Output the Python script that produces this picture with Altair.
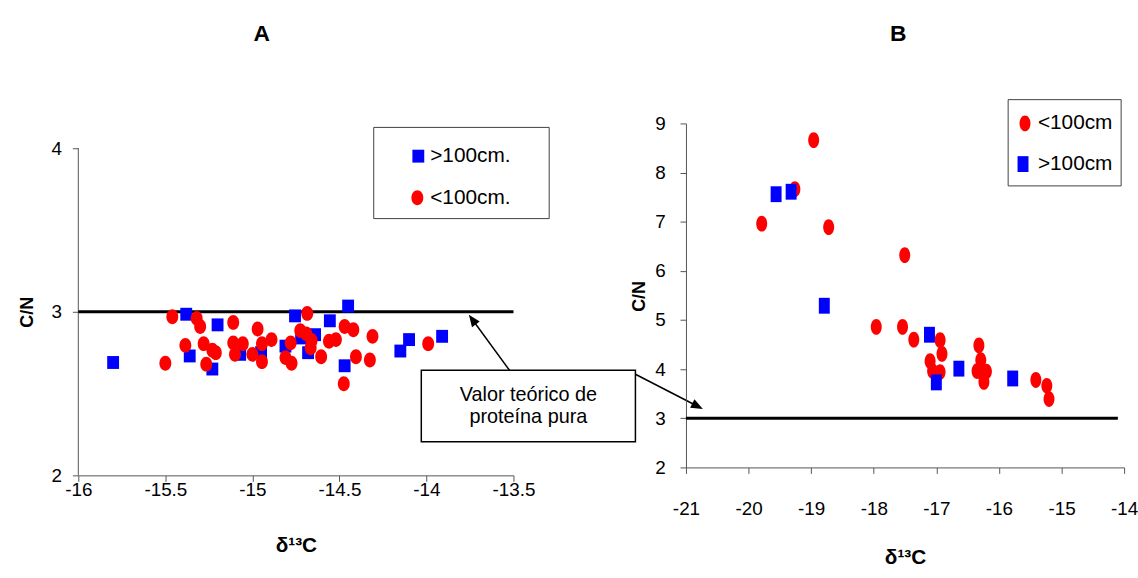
import altair as alt
import pandas as pd

FONT = "Liberation Sans"
RED = "#ff0000"
BLUE = "#0000ff"
AXIS_GREY = "#555555"

# ---------------- Panel A ----------------
a_deep_d13c = [-15.80, -15.38, -15.20, -15.36, -15.23, -15.07, -14.95, -14.81, -14.755,
               -14.72, -14.64, -14.68, -14.555, -14.45, -14.47, -14.15, -14.10, -13.91]
a_deep_cn = [2.69, 2.985, 2.92, 2.73, 2.65, 2.74, 2.75, 2.79, 2.975,
             2.84, 2.86, 2.75, 2.945, 3.035, 2.67, 2.76, 2.83, 2.85]

a_shallow_d13c = [-15.50, -15.46, -15.385, -15.32, -15.30, -15.28, -15.23, -15.21, -15.265,
                  -15.11, -15.11, -15.055, -15.10, -15.00, -14.97, -14.945, -14.945, -14.89,
                  -14.78, -14.81, -14.775, -14.685, -14.725, -14.69, -14.66, -14.665, -14.605,
                  -14.56, -14.52, -14.47, -14.42, -14.31, -14.405, -14.325, -14.475, -13.99]
a_shallow_cn = [2.685, 2.97, 2.795, 2.96, 2.91, 2.805, 2.765, 2.75, 2.68,
                2.935, 2.81, 2.805, 2.74, 2.74, 2.895, 2.805, 2.695, 2.83,
                2.81, 2.72, 2.685, 2.99, 2.885, 2.865, 2.825, 2.78, 2.725,
                2.82, 2.83, 2.91, 2.89, 2.85, 2.725, 2.705, 2.56, 2.805]

a_xticks = [-16, -15.5, -15, -14.5, -14, -13.5]
a_yticks = [2, 3, 4]
a_protein_d13c = [-16, -13.5]

# ---------------- Panel B ----------------
b_shallow_d13c = [-18.96, -19.26, -19.79, -18.72, -17.505, -17.96, -17.54, -17.36, -16.94,
                  -16.91, -17.10, -17.06, -16.94, -16.32, -16.29, -16.35, -16.20, -16.28,
                  -16.24, -15.41, -15.235, -15.20]
b_shallow_cn = [8.66, 7.66, 6.96, 6.89, 6.32, 4.86, 4.86, 4.60, 4.59,
                4.31, 4.16, 3.96, 3.94, 4.48, 4.18, 3.96, 3.95, 3.94,
                3.74, 3.78, 3.66, 3.39]

b_deep_d13c = [-19.32, -19.56, -18.79, -17.11, -17.00, -16.64, -15.78]
b_deep_cn = [7.61, 7.56, 5.29, 4.70, 3.73, 4.01, 3.81]

b_xticks = [-21, -20, -19, -18, -17, -16, -15, -14]
b_yticks = [2, 3, 4, 5, 6, 7, 8, 9]
b_protein_d13c = [-21, -14.1]

# theoretical C/N of pure protein
protein_cn = 3.0

legend_a = [">100cm.", "<100cm."]
legend_b = ["<100cm", ">100cm"]
note_lines = ["Valor teórico de", "proteína pura"]


def ellipse(rx):
    return f"M0,-1A{rx},1 0 1 1 0,1A{rx},1 0 1 1 0,-1Z"


def box(hw):
    return f"M{-hw},-1L{hw},-1L{hw},1L{-hw},1Z"


ONE = pd.DataFrame({"k": [0]})

# scales
xa = alt.Scale(domain=[-16, -13.5], nice=False, zero=False)
ya = alt.Scale(domain=[2, 4.1515], nice=False, zero=False)
xb = alt.Scale(domain=[-21, -14], nice=False, zero=False)
yb = alt.Scale(domain=[2, 9], nice=False, zero=False)

label_style = dict(labelFont=FONT, labelFontSize=19, labelColor="black", labelFlush=False,
                   titleFont=FONT, titleColor="black", titleFontWeight="bold",
                   domainColor=AXIS_GREY, tickColor=AXIS_GREY, tickSize=6,
                   grid=False, titleAlign="center", titleBaseline="middle")

ax_ax = alt.Axis(values=a_xticks, labelExpr="datum.value + ''", title="δ¹³C",
                 titleFontSize=21, titleX=219.5, titleY=71, labelPadding=-1, **label_style)
ax_ay = alt.Axis(values=a_yticks, domain=False, title="C/N", titleFontSize=18,
                 titleAngle=270, titleX=-51, titleY=190, labelPadding=11, **label_style)
ax_bx = alt.Axis(values=b_xticks, labelExpr="datum.value + ''", title="δ¹³C",
                 titleFontSize=21, titleX=221, titleY=91, labelPadding=27, **label_style)
ax_by = alt.Axis(values=b_yticks, title="C/N", titleFontSize=18,
                 titleAngle=270, titleX=-47, titleY=174, labelPadding=15, **label_style)


def points(xs, ys, shape, size, color, xsc, ysc, xax, yax):
    df = pd.DataFrame({"d13c": xs, "cn": ys})
    return alt.Chart(df).mark_point(shape=shape, size=size, filled=True, fill=color,
                                    opacity=1, strokeWidth=0).encode(
        x=alt.X("d13c:Q", scale=xsc, axis=xax),
        y=alt.Y("cn:Q", scale=ysc, axis=yax),
    )


def protein_line(xs, xsc, ysc, xax, yax):
    df = pd.DataFrame({"d13c": xs, "cn": [protein_cn] * len(xs)})
    return alt.Chart(df).mark_line(color="black", strokeWidth=3).encode(
        x=alt.X("d13c:Q", scale=xsc, axis=xax),
        y=alt.Y("cn:Q", scale=ysc, axis=yax),
    )


def px_text(text, x, y, size, weight="normal", align="left"):
    return alt.Chart(ONE).mark_text(font=FONT, fontSize=size, fontWeight=weight,
                                    align=align, baseline="middle", color="black").encode(
        x=alt.value(x), y=alt.value(y), text=alt.value(text))


def px_symbol(shape, size, color, x, y, angle=0):
    return alt.Chart(ONE).mark_point(shape=shape, size=size, filled=True, fill=color,
                                     opacity=1, strokeWidth=0, angle=angle).encode(
        x=alt.value(x), y=alt.value(y))


def px_rect(x, x2, y, y2, stroke, sw):
    return alt.Chart(ONE).mark_rect(fill="white", stroke=stroke, strokeWidth=sw).encode(
        x=alt.value(x), x2=alt.value(x2), y=alt.value(y), y2=alt.value(y2))


def px_segment(x, y, x2, y2):
    return alt.Chart(ONE).mark_rule(color="black", strokeWidth=1.5).encode(
        x=alt.value(x), y=alt.value(y), x2=alt.value(x2), y2=alt.value(y2))


# ---- panel A layers ----
a_sq = box(0.92)
a_ci = ellipse(0.8)
a_axis_line = alt.Chart(pd.DataFrame({"d13c": [-16], "lo": [2], "hi": [4]})).mark_rule(
    color=AXIS_GREY, strokeWidth=1).encode(
    x=alt.X("d13c:Q", scale=xa, axis=ax_ax),
    y=alt.Y("lo:Q", scale=ya, axis=ax_ay),
    y2="hi:Q",
)

arrow_head = "M0,-1L0.8,1L-0.8,1Z"

panel_a = alt.layer(
    a_axis_line,
    protein_line(a_protein_d13c, xa, ya, ax_ax, ax_ay),
    points(a_deep_d13c, a_deep_cn, a_sq, 169, BLUE, xa, ya, ax_ax, ax_ay),
    points(a_shallow_d13c, a_shallow_cn, a_ci, 225, RED, xa, ya, ax_ax, ax_ay),
    # legend
    px_rect(298, 475, 4, 96, "#404040", 1),
    px_symbol(a_sq, 169, BLUE, 343, 33),
    px_text(legend_a[0], 355, 33, 21),
    px_symbol(a_ci, 225, RED, 342, 75),
    px_text(legend_a[1], 355, 75, 21),
    # annotation: theoretical value of pure protein
    px_segment(435, 249, 397.5, 197.8),
    px_symbol(arrow_head, 144, "black", 397.5, 197.8, angle=323.8),
    px_segment(562, 253, 624.7, 285.3),
    px_symbol(arrow_head, 144, "black", 624.7, 285.3, angle=117.2),
    px_rect(346, 562, 249, 321, "black", 1.5),
    px_text(note_lines[0], 454, 274, 20, align="center"),
    px_text(note_lines[1], 454, 296, 20, align="center"),
    # panel letter
    px_text("A", 185, -90, 23, weight="bold", align="center"),
).properties(width=439, height=355)

# ---- panel B layers ----
b_ci = ellipse(0.69)
b_sq = box(0.69)

panel_b = alt.layer(
    protein_line(b_protein_d13c, xb, yb, ax_bx, ax_by),
    points(b_shallow_d13c, b_shallow_cn, b_ci, 256, RED, xb, yb, ax_bx, ax_by),
    points(b_deep_d13c, b_deep_cn, b_sq, 256, BLUE, xb, yb, ax_bx, ax_by),
    # legend
    px_rect(325, 439, -24, 63, "#404040", 1),
    px_symbol(b_ci, 256, RED, 342, 0),
    px_text(legend_b[0], 355, 0, 21),
    px_symbol(b_sq, 256, BLUE, 340, 41),
    px_text(legend_b[1], 355, 41, 21),
    px_text("B", 214, -90, 23, weight="bold", align="center"),
).properties(width=442, height=347)

chart = alt.hconcat(panel_a, panel_b, spacing=174, bounds="flush").configure(
    padding={"left": 19, "top": 21, "right": 0, "bottom": 5},
    font=FONT,
    background="white",
).configure_view(strokeWidth=0)

chart.save("out.html", embed_options={"renderer": "svg", "actions": False})
